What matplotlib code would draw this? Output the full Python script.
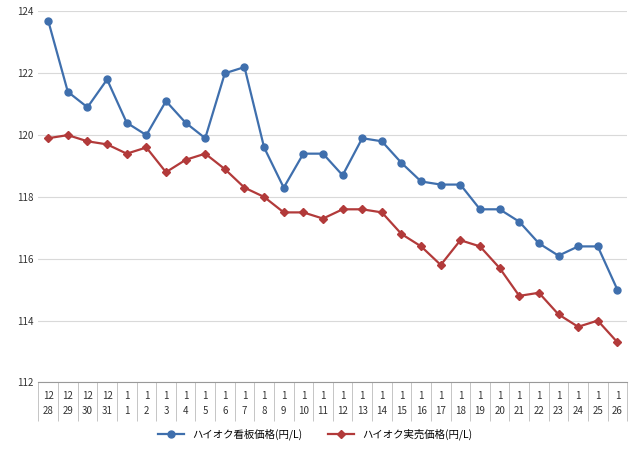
import matplotlib.pyplot as plt
import numpy as np

plt.rcParams["font.family"] = "Noto Sans CJK JP"

months = ["12"] * 4 + ["1"] * 26
days = ["28", "29", "30", "31"] + [str(d) for d in range(1, 27)]
labels = [m + "\n" + d for m, d in zip(months, days)]

signboard = [123.7, 121.4, 120.9, 121.8, 120.4, 120.0, 121.1, 120.4, 119.9, 122.0,
             122.2, 119.6, 118.3, 119.4, 119.4, 118.7, 119.9, 119.8, 119.1, 118.5,
             118.4, 118.4, 117.6, 117.6, 117.2, 116.5, 116.1, 116.4, 116.4, 115.0]
actual = [119.9, 120.0, 119.8, 119.7, 119.4, 119.6, 118.8, 119.2, 119.4, 118.9,
          118.3, 118.0, 117.5, 117.5, 117.3, 117.6, 117.6, 117.5, 116.8, 116.4,
          115.8, 116.6, 116.4, 115.7, 114.8, 114.9, 114.2, 113.8, 114.0, 113.3]

fig = plt.figure(figsize=(6.4, 4.58), dpi=100)
ax = fig.add_axes([0.06, 0.165, 0.92, 0.81])
x = np.arange(len(labels))
ax.plot(x, signboard, color="#3f6fad", marker="o", markersize=5, lw=1.6,
        label="ハイオク看板価格(円/L)")
ax.plot(x, actual, color="#b23a3a", marker="D", markersize=4.5, lw=1.6,
        label="ハイオク実売価格(円/L)")
ax.set_xlim(-0.5, len(labels) - 0.5)
ax.set_ylim(112, 124)
ax.set_yticks(range(112, 125, 2))
ax.set_xticks(x)
ax.set_xticklabels(labels, fontsize=7, color="#333333", linespacing=1.6)
ax.set_xticks(np.arange(-0.5, len(labels), 1), minor=True)
ax.tick_params(axis="x", which="major", length=0, pad=6)
ax.tick_params(axis="x", which="minor", length=28, color="#bbbbbb")
ax.tick_params(axis="y", length=0, labelsize=7, labelcolor="#333333")
ax.grid(axis="y", color="#d9d9d9", lw=0.8)
for s in ["top", "right", "left"]:
    ax.spines[s].set_visible(False)
ax.spines["bottom"].set_color("#999999")
ax.legend(loc="upper center", bbox_to_anchor=(0.47, -0.1), ncol=2, frameon=False,
          fontsize=7.5, handlelength=2.5, columnspacing=2.5)
fig.savefig("out.png")
